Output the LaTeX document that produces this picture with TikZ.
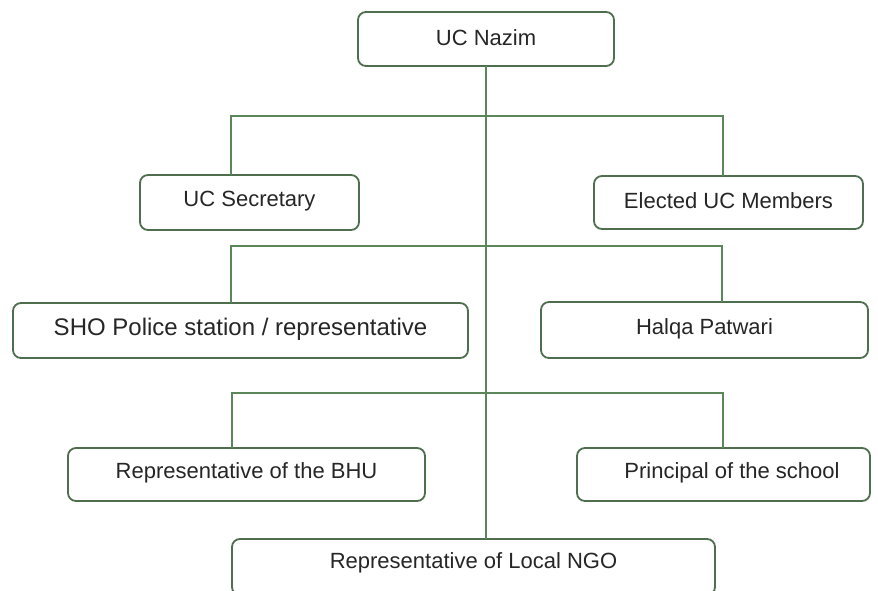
\documentclass[tikz,border=0pt]{standalone}
\usepackage{fontspec}
\setmainfont{Liberation Sans}
\begin{document}
\begin{tikzpicture}[x=1pt,y=-1pt,
  box/.style={draw=boxc, line width=1.8pt, rounded corners=8pt, fill=white},
  lbl/.style={font=\fontsize{22}{26}\selectfont, text=black!85},
  conn/.style={draw=linec, line width=1.5pt}]
\definecolor{boxc}{HTML}{4E6E4E}
\definecolor{linec}{HTML}{5A865A}
\useasboundingbox (0,0) rectangle (878,591);
\fill[white] (0,0) rectangle (878,591);
% boxes
\draw[box] (358,12) rectangle (614,66);
\node[lbl] (naz) at (486,38) {UC Nazim};
\draw[box] (140,175) rectangle (359,230);
\node[lbl] (sec) at (249.5,201) {UC Secretary};
\draw[box] (594,176) rectangle (863,229);
\node[lbl] (mem) at (728.5,201) {Elected UC Members};
\draw[box] (13,303) rectangle (468,358);
\node[lbl, font=\fontsize{24}{28}\selectfont] (sho) at (240.5,329) {SHO Police station / representative};
\draw[box] (541,302) rectangle (868,358);
\node[lbl] (pat) at (704.5,329) {Halqa Patwari};
\draw[box] (68,448) rectangle (425,501);
\node[lbl] (bhu) at (246.5,473) {Representative of the BHU};
\draw[box] (577,448) rectangle (870,501);
\node[lbl] (pri) at (732,473) {Principal of the school};
\draw[box] (232,539) rectangle (715,595);
\node[lbl] (ngo) at (473.5,563) {Representative of Local NGO};
% named connector points
\coordinate (nb) at (486,66);
\coordinate (nt) at (486,539);
\coordinate (h1l) at (231,116); \coordinate (h1r) at (723,116);
\coordinate (s1) at (231,175); \coordinate (m1) at (723,176);
\coordinate (h2l) at (231,246); \coordinate (h2r) at (722,246);
\coordinate (s2) at (231,303); \coordinate (m2) at (722,302);
\coordinate (h3l) at (232,393); \coordinate (h3r) at (723,393);
\coordinate (s3) at (232,448); \coordinate (m3) at (723,448);
\draw[conn] (nb) -- (nt);
\draw[conn] (s1) -- (h1l) -- (h1r) -- (m1);
\draw[conn] (s2) -- (h2l) -- (h2r) -- (m2);
\draw[conn] (s3) -- (h3l) -- (h3r) -- (m3);
\end{tikzpicture}
\end{document}
